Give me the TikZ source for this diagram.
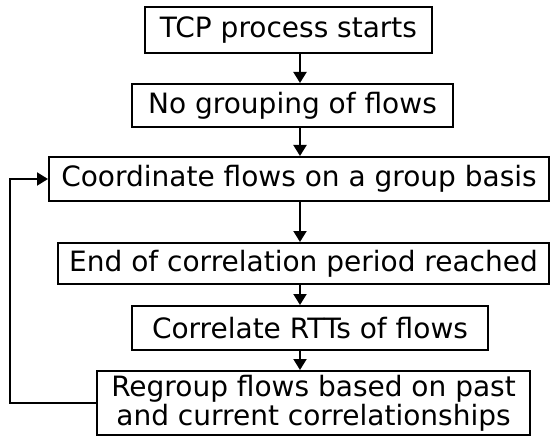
\documentclass[tikz,border=0pt]{standalone}
\usepackage{fontspec}
\setmainfont{DejaVu Sans}
\usetikzlibrary{arrows.meta,positioning}

\begin{document}
\begin{tikzpicture}[
  x=1pt, y=-1pt,
  font=\fontsize{28}{29}\selectfont,
  box/.style={draw, line width=2pt, align=center, inner sep=0pt},
  arr/.style={-{Triangle[length=11pt,width=13pt]}, line width=2pt}
]
\useasboundingbox (0,0) rectangle (552,441);
\node[box, minimum width=287, minimum height=46] (start) at (288.5,30) {TCP process starts};
\node[box, minimum width=321, minimum height=43] (nogroup) at (292.5,105.5) {No grouping of flows};
\node[box, minimum width=500, minimum height=44] (coord) at (299,179) {Coordinate flows on a group basis};
\node[box, minimum width=491, minimum height=41] (endper) at (303.5,263.5) {End of correlation period reached};
\node[box, minimum width=356, minimum height=44] (correl) at (310,328) {Correlate RTTs of flows};
\node[box, minimum width=433, minimum height=64] (regroup) at (313.5,403) {Regroup flows based on past\\and current correlationships};
\coordinate (loopx) at (10,0);
% main chain, all arrows on one vertical
\draw[arr] (start.south -| 300,0) -- (nogroup.north -| 300,0);
\draw[arr] (nogroup.south -| 300,0) -- (coord.north -| 300,0);
\draw[arr] (coord.south -| 300,0) -- (endper.north -| 300,0);
\draw[arr] (endper.south -| 300,0) -- (correl.north -| 300,0);
\draw[arr] (correl.south -| 300,0) -- (regroup.north -| 300,0);
% feedback loop
\draw[arr] (regroup.west) -- (regroup.west -| loopx) |- (coord.west);
\end{tikzpicture}
\end{document}
